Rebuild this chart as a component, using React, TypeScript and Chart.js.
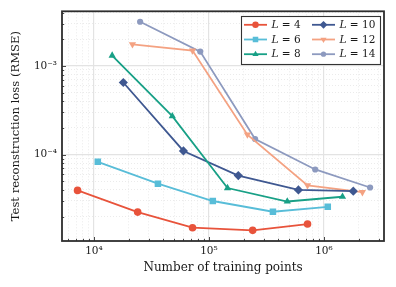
import React, { useEffect, useRef } from "react";
import { Chart, registerables } from "chart.js";
import { drawPoint } from "chart.js/helpers";

Chart.register(...registerables);

// ---- data ----
const seriesNames = ["4", "6", "8", "10", "12", "14"];

const xL4 = [7200, 24000, 72000, 240000, 720000];
const yL4 = [3.95e-5, 2.25e-5, 1.5e-5, 1.4e-5, 1.65e-5];

const xL6 = [10800, 36000, 108000, 360000, 1080000];
const yL6 = [8.3e-5, 4.7e-5, 3.0e-5, 2.27e-5, 2.58e-5];

const xL8 = [14400, 48000, 145000, 480000, 1450000];
const yL8 = [1.31e-3, 2.72e-4, 4.2e-5, 2.96e-5, 3.35e-5];

const xL10 = [18000, 60000, 180000, 600000, 1800000];
const yL10 = [6.5e-4, 1.1e-4, 5.8e-5, 4.0e-5, 3.87e-5];

const xL12 = [21600, 72000, 216000, 720000, 2160000];
const yL12 = [1.75e-3, 1.49e-3, 1.68e-4, 4.5e-5, 3.77e-5];

const xL14 = [25200, 84000, 252000, 840000, 2520000];
const yL14 = [3.15e-3, 1.45e-3, 1.5e-4, 6.8e-5, 4.26e-5];

const xValues = [xL4, xL6, xL8, xL10, xL12, xL14];
const yValues = [yL4, yL6, yL8, yL10, yL12, yL14];

const xMin = 5272;
const xMax = 3.33e6;
const yMin = 1.062e-5;
const yMax = 4.13e-3;

const xTitle = "Number of training points";
const yTitle = "Test reconstruction loss (RMSE)";

// ---- styles ----
const colors = ["#e8533b", "#58bdd8", "#18a086", "#3f5891", "#f4a282", "#8d9abf"];
const pointStyles = ["circle", "rect", "triangle", "rectRot", "triangle", "circle"];
const pointRotations = [0, 0, 0, 0, 180, 0];
const pointRadii = [3.8, 4.6, 4.2, 4.6, 4.2, 3.1];

const FONT = "'DejaVu Serif', 'Liberation Serif', serif";
const SUP: Record<string, string> = {
  "0": "⁰", "1": "¹", "2": "²", "3": "³", "4": "⁴", "5": "⁵",
  "6": "⁶", "7": "⁷", "8": "⁸", "9": "⁹", "-": "⁻",
};

function mantissa(v: number) {
  const e = Math.floor(Math.log10(v) + 1e-9);
  return v / Math.pow(10, e);
}
function isIntMant(v: number) {
  const m = mantissa(v);
  return Math.abs(m - Math.round(m)) < 1e-6 && Math.round(m) >= 1 && Math.round(m) <= 9;
}
function isMajor(v: number) {
  const l = Math.log10(v);
  return Math.abs(l - Math.round(l)) < 1e-6;
}
function powLabel(v: number) {
  if (!isMajor(v)) return "";
  const e = Math.round(Math.log10(v));
  return "10" + String(e).split("").map((c) => SUP[c]).join("");
}

const majorGrid = (c: any) => (c.tick && isMajor(c.tick.value) ? "#e3e3e3" : "rgba(0,0,0,0)");
const minorGrid = (c: any) =>
  c.tick && isIntMant(c.tick.value) && !isMajor(c.tick.value) ? "#e6e6e6" : "rgba(0,0,0,0)";

const framePlugin = {
  id: "frameAndLegend",
  afterDatasetsDraw(chart: any) {
    const ctx = chart.ctx;
    const { left, right, top, bottom } = chart.chartArea;
    ctx.save();
    ctx.strokeStyle = "#333333";
    ctx.lineWidth = 0.9;
    const xs = chart.scales.x;
    xs.ticks.forEach((t: any) => {
      if (!isIntMant(t.value)) return;
      const px = Math.round(xs.getPixelForValue(t.value)) + 0.5;
      const len = isMajor(t.value) ? 4 : 2.2;
      ctx.beginPath();
      ctx.moveTo(px, bottom);
      ctx.lineTo(px, bottom - len);
      ctx.stroke();
    });
    const ys = chart.scales.y;
    ys.ticks.forEach((t: any) => {
      if (!isIntMant(t.value)) return;
      const py = Math.round(ys.getPixelForValue(t.value)) + 0.5;
      const len = isMajor(t.value) ? 4 : 2.2;
      ctx.beginPath();
      ctx.moveTo(left, py);
      ctx.lineTo(left + len, py);
      ctx.stroke();
    });
    ctx.lineWidth = 1.8;
    ctx.strokeStyle = "#2e2e2e";
    ctx.strokeRect(left, top, right - left, bottom - top);
    ctx.restore();
  },
  afterDraw(chart: any) {
    const ctx = chart.ctx;
    ctx.save();
    const bx = 241, by = 16, bw = 139, bh = 48;
    ctx.fillStyle = "#ffffff";
    ctx.fillRect(bx, by, bw, bh);
    ctx.lineWidth = 1.1;
    ctx.strokeStyle = "#333333";
    ctx.strokeRect(bx + 0.5, by + 0.5, bw, bh);
    const rowsY = [24.8, 39.5, 54.2];
    const colX = [244, 312];
    chart.data.datasets.forEach((ds: any, i: number) => {
      const col = Math.floor(i / 3);
      const row = i % 3;
      const x0 = colX[col];
      const y0 = rowsY[row];
      ctx.strokeStyle = ds.borderColor;
      ctx.fillStyle = ds.borderColor;
      ctx.lineWidth = 1.8;
      ctx.beginPath();
      ctx.moveTo(x0, y0);
      ctx.lineTo(x0 + 23, y0);
      ctx.stroke();
      drawPoint(ctx, {
        pointStyle: ds.pointStyle,
        rotation: ds.pointRotation,
        radius: ds.pointRadius * 0.85,
        borderWidth: 0,
      } as any, x0 + 11.5, y0);
      ctx.fillStyle = "#1a1a1a";
      ctx.textBaseline = "middle";
      ctx.textAlign = "left";
      ctx.font = `italic 10.5px ${FONT}`;
      const tx = x0 + 27.5;
      ctx.fillText("L", tx, y0 + 0.5);
      const w = ctx.measureText("L").width;
      ctx.font = `10.5px ${FONT}`;
      ctx.fillText(" = " + seriesNames[i], tx + w, y0 + 0.5);
    });
    ctx.restore();
  },
};

export default function App() {
  const ref = useRef<HTMLCanvasElement | null>(null);
  useEffect(() => {
    document.body.style.margin = "0";
    const canvas = ref.current;
    if (!canvas) return;
    const datasets = seriesNames.map((n, i) => ({
      label: "L = " + n,
      data: xValues[i].map((x, j) => ({ x, y: yValues[i][j] })),
      borderColor: colors[i],
      backgroundColor: colors[i],
      borderWidth: 1.8,
      pointStyle: pointStyles[i],
      pointRotation: pointRotations[i],
      pointRadius: pointRadii[i],
      pointHoverRadius: pointRadii[i],
      pointBorderWidth: 0,
      tension: 0,
      fill: false,
    }));
    const chart = new Chart(canvas, {
      type: "line",
      data: { datasets } as any,
      options: {
        animation: false,
        responsive: true,
        maintainAspectRatio: false,
        devicePixelRatio: 1,
        layout: { padding: { top: 11, right: 12, left: 0, bottom: 0 } },
        plugins: { legend: { display: false }, tooltip: { enabled: false } },
        scales: {
          x2: {
            type: "logarithmic",
            position: "bottom",
            min: xMin,
            max: xMax,
            afterFit: (s: any) => { s.height = 0; },
            ticks: { display: false, autoSkip: false },
            grid: { drawTicks: false, color: minorGrid, lineWidth: 0.8 },
            border: { display: false, dash: [1, 2] },
          },
          y2: {
            type: "logarithmic",
            position: "left",
            min: yMin,
            max: yMax,
            afterFit: (s: any) => { s.width = 0; },
            ticks: { display: false, autoSkip: false },
            grid: { drawTicks: false, color: minorGrid, lineWidth: 0.8 },
            border: { display: false, dash: [1, 2] },
          },
          x: {
            type: "logarithmic",
            position: "bottom",
            min: xMin,
            max: xMax,
            afterFit: (s: any) => { s.height = 46; },
            ticks: {
              autoSkip: false,
              maxRotation: 0,
              padding: 4,
              color: "#1a1a1a",
              font: { family: FONT, size: 10.5 },
              callback: (v: any) => powLabel(Number(v)),
            },
            grid: { drawTicks: false, color: majorGrid, lineWidth: 1.2 },
            border: { display: false },
            title: {
              display: true,
              text: xTitle,
              color: "#1a1a1a",
              font: { family: FONT, size: 12 },
              padding: { top: 0, bottom: 12 },
            },
          },
          y: {
            type: "logarithmic",
            position: "left",
            min: yMin,
            max: yMax,
            afterFit: (s: any) => { s.width = 62; },
            ticks: {
              autoSkip: false,
              padding: 5,
              color: "#1a1a1a",
              font: { family: FONT, size: 10.5 },
              callback: (v: any) => powLabel(Number(v)),
            },
            grid: { drawTicks: false, color: majorGrid, lineWidth: 1.2 },
            border: { display: false },
            title: {
              display: true,
              text: yTitle,
              color: "#1a1a1a",
              font: { family: FONT, size: 11.6 },
              padding: { top: 9.5, bottom: 0 },
            },
          },
        },
      } as any,
      plugins: [framePlugin],
    });
    return () => chart.destroy();
  }, []);
  return (
    <div style={{ width: 396, height: 287, position: "relative" }}>
      <canvas ref={ref} />
    </div>
  );
}
